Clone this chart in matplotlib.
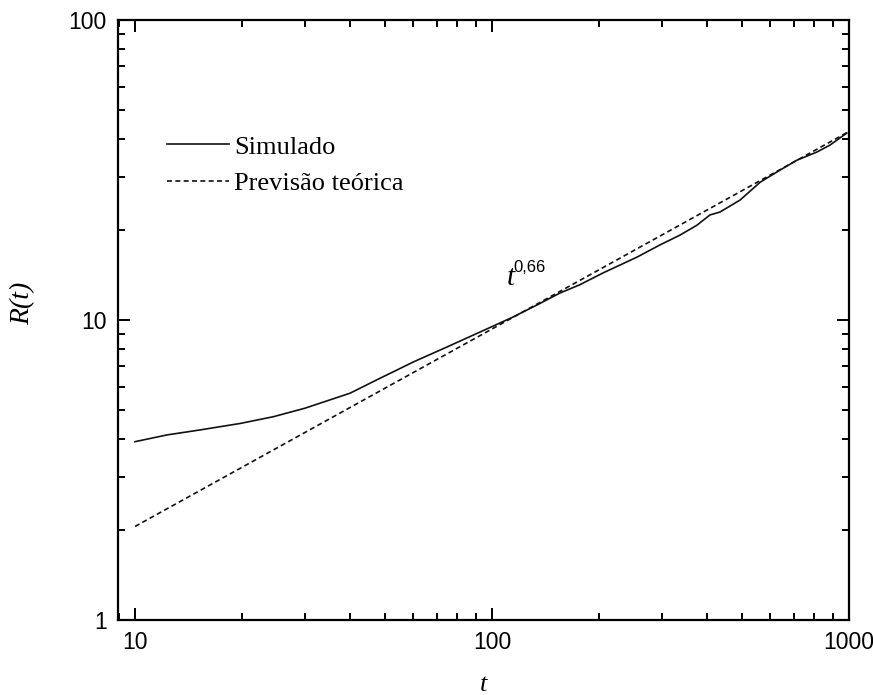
import matplotlib
matplotlib.use("Agg")
import matplotlib.pyplot as plt
import matplotlib.ticker as mticker

# valores
t_sim = [10, 12.3, 15.2, 19.7, 24.4, 29.9, 40, 48.5, 54, 60.1, 74.8, 92.6,
         114.5, 133.6, 155, 176, 204.6, 254.7, 295.6, 336.5, 375, 408, 435,
         495, 564, 641, 715, 813, 885, 986]
r_sim = [3.93, 4.14, 4.30, 4.52, 4.76, 5.08, 5.70, 6.39, 6.80, 7.24, 8.13, 9.12,
         10.23, 11.22, 12.3, 13.1, 14.35, 16.2, 17.8, 19.2, 20.7, 22.4, 22.9,
         25.1, 28.8, 31.6, 34.1, 36.3, 38.3, 42.0]
t_teo = [10, 1000]
r_teo = [2.05, 42.5]

x_ticks = [10, 100, 1000]
y_ticks = [1, 10, 100]

fig = plt.figure(figsize=(8.73, 6.95), dpi=100)
ax = fig.add_axes([118 / 873, 1 - 620 / 695, (849 - 118) / 873, (620 - 20) / 695])

ax.plot(t_sim, r_sim, color='#111111', lw=1.2, label='Simulado')
ax.plot(t_teo, r_teo, color='#111111', lw=1.2, ls=(0, (3, 2)), label='Previsão teórica')

ax.set_xscale('log')
ax.set_yscale('log')
ax.set_xlim(8.96, 1000)
ax.set_ylim(1, 100)
ax.set_xticks(x_ticks)
ax.set_yticks(y_ticks)
fmt = mticker.FuncFormatter(lambda v, p: '%g' % v)
ax.xaxis.set_major_formatter(fmt)
ax.yaxis.set_major_formatter(fmt)
ax.xaxis.set_minor_formatter(mticker.NullFormatter())
ax.yaxis.set_minor_formatter(mticker.NullFormatter())

for s in ax.spines.values():
    s.set_linewidth(1.6)
ax.tick_params(which='both', direction='in', top=True, right=True, width=1.4)
ax.tick_params(which='major', length=8.5, labelsize=16.5, pad=8)
ax.tick_params(which='minor', length=5)
for lab in ax.get_xticklabels() + ax.get_yticklabels():
    lab.set_fontfamily('Liberation Sans')

ax.set_xlabel('t', fontfamily='Liberation Serif', style='italic', fontsize=19)
ax.set_ylabel('R(t)', fontfamily='Liberation Serif', style='italic', fontsize=20)
ax.xaxis.set_label_coords(0.5, -0.09)
ax.yaxis.set_label_coords(-0.113, 0.528)

ax.text(110, 13.1, 't', fontfamily='Liberation Serif', style='italic', fontsize=21, va='baseline')
ax.text(114.5, 14.45, '0,66', fontfamily='Liberation Sans', fontsize=12, va='baseline')

leg = ax.legend(loc='center left', bbox_to_anchor=(167 / 873, 1 - 165 / 695),
                bbox_transform=fig.transFigure, frameon=False, borderpad=0,
                borderaxespad=0, handlelength=2.35, handletextpad=0.2,
                labelspacing=0.48, prop={'family': 'Liberation Serif', 'size': 19})

fig.savefig('out.png', dpi=100)
